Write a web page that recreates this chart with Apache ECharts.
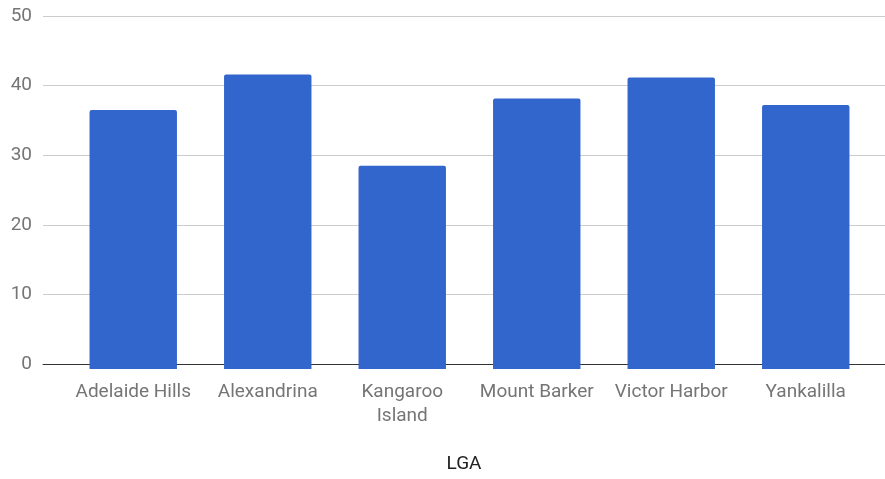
<!DOCTYPE html>
<html>
<head>
<meta charset="utf-8">
<title>LGA</title>
<script src="https://cdn.jsdelivr.net/npm/echarts@6/dist/echarts.min.js"></script>
<style>
  html, body { margin: 0; padding: 0; background: #ffffff; overflow: hidden; }
  #chart { width: 885px; height: 479px; }
</style>
</head>
<body>
<div id="chart"></div>
<script>
// Local government areas and their values
const categories = ['Adelaide Hills', 'Alexandrina', 'Kangaroo\nIsland', 'Mount Barker', 'Victor Harbor', 'Yankalilla'];
const values = [36.7, 41.7, 28.8, 38.3, 41.3, 37.4];
const yTicks = [0, 10, 20, 30, 40, 50];
const axisTitle = 'LGA';

const yMin = yTicks[0];
const yMax = yTicks[yTicks.length - 1];
const yStep = yTicks[1] - yTicks[0];
const fontFamily = 'Roboto, "Noto Sans", sans-serif';

const chart = echarts.init(document.getElementById('chart'), null, { renderer: 'canvas' });

chart.setOption({
  animation: false,
  backgroundColor: '#ffffff',
  grid: [
    // full-width frame: gridlines, baseline and value labels
    { left: 43, right: 0, top: 16, bottom: 110, containLabel: false },
    // inset frame holding the bars
    { left: 66, right: 12, top: 16, bottom: 110, containLabel: false }
  ],
  xAxis: [
    {
      gridIndex: 0,
      type: 'value',
      min: 0,
      max: 1,
      axisLabel: { show: false },
      axisTick: { show: false },
      splitLine: { show: false },
      axisLine: { show: true, onZero: false, lineStyle: { color: '#333333', width: 1 } },
      name: axisTitle,
      nameLocation: 'middle',
      nameGap: 91,
      nameTextStyle: { color: '#222222', fontSize: 19, fontFamily: fontFamily }
    },
    {
      gridIndex: 1,
      type: 'category',
      data: categories,
      axisLine: { show: false },
      axisTick: { show: false },
      axisLabel: {
        interval: 0,
        margin: 11,
        color: '#757575',
        fontSize: 19,
        lineHeight: 24,
        fontFamily: fontFamily
      }
    }
  ],
  yAxis: [
    {
      gridIndex: 0,
      type: 'value',
      min: yMin,
      max: yMax,
      interval: yStep,
      axisLine: { show: false },
      axisTick: { show: false },
      axisLabel: { margin: 11, color: '#757575', fontSize: 19, fontFamily: fontFamily },
      splitLine: { show: true, lineStyle: { color: '#cccccc', width: 1 } }
    },
    {
      gridIndex: 1,
      type: 'value',
      min: yMin,
      max: yMax,
      interval: yStep,
      axisLine: { show: false },
      axisTick: { show: false },
      axisLabel: { show: false },
      splitLine: { show: false }
    }
  ],
  series: [
    {
      type: 'bar',
      xAxisIndex: 1,
      yAxisIndex: 1,
      data: values,
      barCategoryGap: '35%',
      itemStyle: { color: '#3366cc', borderRadius: [2, 2, 0, 0] },
      z: 1
    }
  ]
});
</script>
</body>
</html>
